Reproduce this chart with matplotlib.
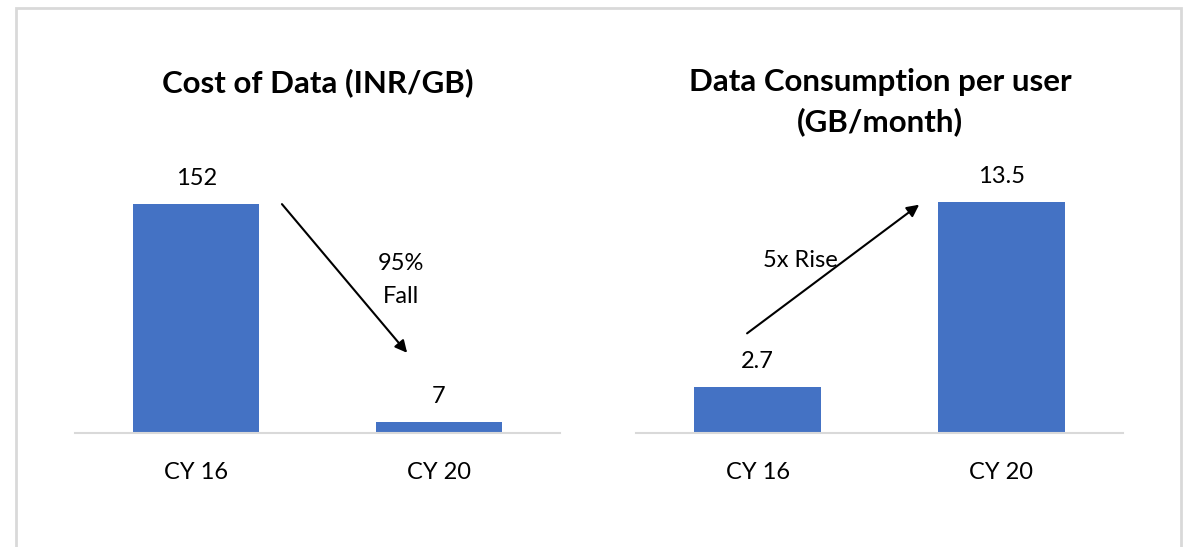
import matplotlib.pyplot as plt
import matplotlib.patches as mpatches

categories = ["CY 16", "CY 20"]
cost_values = [152, 7]
cost_labels = ["152", "7"]
usage_values = [2.7, 13.5]
usage_labels = ["2.7", "13.5"]

BAR_COLOR = "#4472C4"
GRID_COLOR = "#d9d9d9"
plt.rcParams['font.family'] = ['Lato', 'DejaVu Sans']

W, H = 1186, 547
fig = plt.figure(figsize=(W / 100, H / 100), dpi=100)

# light frame round the whole chart
fig.patches.append(mpatches.Rectangle((16 / W, -0.05), (1181 - 16) / W, 1 - 8 / H + 0.05,
                                      transform=fig.transFigure, fill=False,
                                      edgecolor=GRID_COLOR, linewidth=2))


def bar_panel(rect, values, labels, ymax, label_off):
    ax = fig.add_axes(rect)
    x = range(len(categories))
    ax.bar(x, values, width=0.52, color=BAR_COLOR)
    for xi, v, lab in zip(x, values, labels):
        ax.annotate(lab, (xi, v), xytext=(0, label_off), textcoords='offset points',
                    ha='center', va='bottom', fontsize=17)
    ax.set_xlim(-0.5, 1.5)
    ax.set_ylim(0, ymax)
    ax.set_xticks(list(x))
    ax.set_xticklabels(categories, fontsize=17)
    ax.tick_params(axis='x', length=0, pad=21)
    ax.set_yticks([])
    for s in ['top', 'left', 'right']:
        ax.spines[s].set_visible(False)
    ax.spines['bottom'].set_color(GRID_COLOR)
    ax.spines['bottom'].set_linewidth(1.5)
    return ax


bottom = 1 - 433 / H
height = 283 / H
ax1 = bar_panel([75 / W, bottom, 485 / W, height], cost_values, cost_labels, 187.8, 11)
ax2 = bar_panel([636 / W, bottom, 487 / W, height], usage_values, usage_labels, 16.55, 11)

fig.text(318 / W, 1 - 83 / H, "Cost of Data (INR/GB)", ha='center', va='center',
         fontsize=22.5, fontweight='bold')
fig.text(880 / W, 1 - 102 / H, "Data Consumption per user\n(GB/month)", ha='center',
         va='center', fontsize=22.5, fontweight='bold', linespacing=1.5)

arrow = dict(arrowstyle='-|>', color='black', lw=1.5, mutation_scale=18)
ax1.annotate("", xy=(0.877, 51.8), xytext=(0.346, 153.3), arrowprops=arrow)
ax1.text(0.844, 101.5, "95%\nFall", ha='center', va='center', fontsize=17, linespacing=1.7)
ax2.annotate("", xy=(0.672, 13.45), xytext=(-0.053, 5.73), arrowprops=arrow)
ax2.text(0.176, 10.1, "5x Rise", ha='center', va='center', fontsize=17)

fig.savefig("out.png", dpi=100, facecolor='white')
